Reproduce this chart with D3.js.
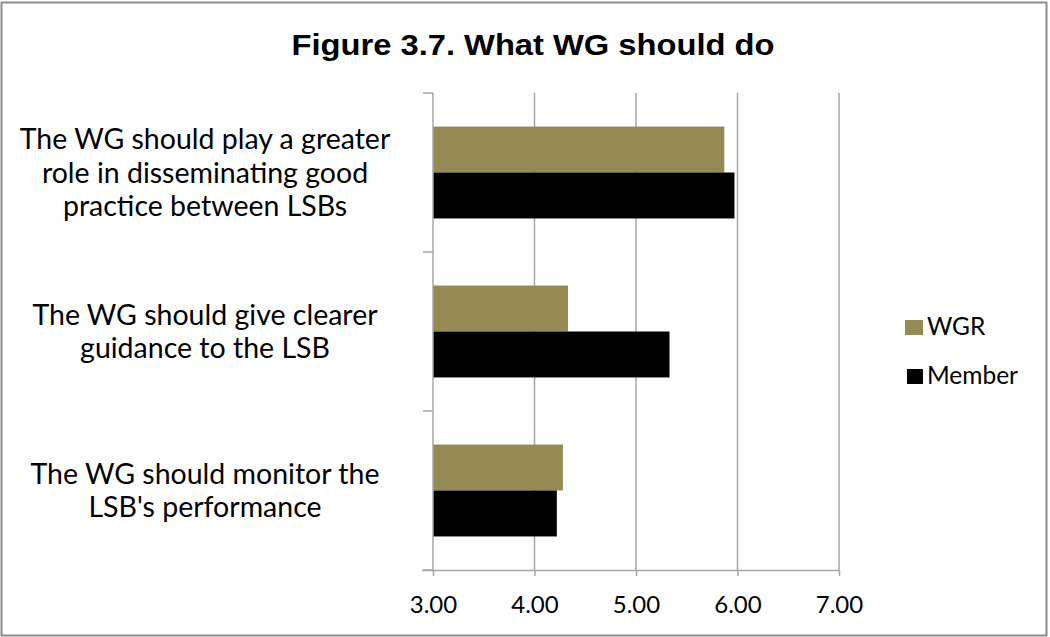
<!DOCTYPE html>
<html><head><meta charset="utf-8">
<script src="https://cdn.jsdelivr.net/npm/d3@7"></script>
<style>body{margin:0;background:#fff}svg{display:block}</style>
</head><body><svg id="c" width="1050" height="637"></svg>
<script>
const categories = [
  ["The WG should play a greater","role in disseminating good","practice between LSBs"],
  ["The WG should give clearer","guidance to the LSB"],
  ["The WG should monitor the","LSB's performance"]
];
const seriesNames = ["WGR","Member"];
const wgrValues = [5.87, 4.33, 4.28];
const memberValues = [5.97, 5.33, 4.22];
const xTicks = [3,4,5,6,7];
const colors = ["#948A54","#000000"];

const svg = d3.select("#c");
svg.append("rect").attr("x",1.5).attr("y",2.5).attr("width",1045).attr("height",633)
  .attr("fill","#fff").attr("stroke","#8c8c8c").attr("stroke-width",2);

svg.append("text").attr("x",533).attr("y",55).attr("text-anchor","middle")
  .attr("font-family","Liberation Sans, Arial, sans-serif").attr("font-weight","bold")
  .attr("font-size",30).attr("textLength",483).attr("lengthAdjust","spacingAndGlyphs")
  .text("Figure 3.7. What WG should do");

const x = d3.scaleLinear().domain([3,7]).range([433,839]);
const y = d3.scaleBand().domain(d3.range(categories.length)).range([93,570]);
const inner = d3.scaleBand().domain(d3.range(2)).range([0,y.bandwidth()]).paddingOuter(0.73).paddingInner(0);

// gridlines
svg.append("g").selectAll("line").data(xTicks.slice(1)).join("line")
  .attr("x1",d=>x(d)).attr("x2",d=>x(d)).attr("y1",93).attr("y2",570)
  .attr("stroke","#a6a6a6").attr("stroke-width",1.5);

// bars
const data = categories.map((c,i)=>({i, vals:[wgrValues[i], memberValues[i]]}));
const gb = svg.append("g");
data.forEach(d=>{
  d.vals.forEach((v,k)=>{
    gb.append("rect").attr("x",x(3)).attr("y",y(d.i)+inner(k))
      .attr("width",x(v)-x(3)).attr("height",inner.bandwidth()).attr("fill",colors[k]);
  });
});

// bottom axis
const xAxis = d3.axisBottom(x).tickValues(xTicks).tickFormat(d3.format(".2f")).tickSizeInner(6).tickSizeOuter(0);
const gx = svg.append("g").attr("transform","translate(0,570)").call(xAxis);
gx.select(".domain").attr("stroke","#a6a6a6").attr("stroke-width",1.5).attr("d","M422,0.5H839");
gx.selectAll(".tick line").attr("stroke","#a6a6a6").attr("stroke-width",1.5);
gx.selectAll(".tick text").attr("font-family","Lato, Calibri, sans-serif").attr("font-size",24)
  .attr("fill","#000").attr("y",0).attr("dy",43);

// left axis
const la = svg.append("g");
la.append("line").attr("x1",x(3)).attr("x2",x(3)).attr("y1",93).attr("y2",570).attr("stroke","#a6a6a6").attr("stroke-width",1.5);
const bounds = y.domain().map(i=>y(i)).concat([570]);
la.selectAll("line.t").data(bounds).join("line").attr("class","t")
  .attr("x1",x(3)-10).attr("x2",x(3)).attr("y1",d=>d).attr("y2",d=>d)
  .attr("stroke","#a6a6a6").attr("stroke-width",1.5);

// category labels
const lh = 33.5;
categories.forEach((lines,i)=>{
  const cy = y(i)+y.bandwidth()/2;
  const t = svg.append("text").attr("text-anchor","middle")
    .attr("font-family","Lato, Calibri, sans-serif").attr("font-size",28.5).attr("fill","#000");
  lines.forEach((s,j)=>{
    t.append("tspan").attr("x",205).attr("y",cy + (j-(lines.length-1)/2)*lh + 10).text(s);
  });
});

// legend
const lg = svg.append("g");
const sw = [[905,18],[907,16]];
seriesNames.forEach((n,k)=>{
  const base = 335 + k*49;
  lg.append("rect").attr("x",sw[k][0]).attr("y",base-15).attr("width",sw[k][1]).attr("height",15).attr("fill",colors[k]);
  lg.append("text").attr("x",927).attr("y",base).attr("font-family","Lato, Calibri, sans-serif")
    .attr("font-size",24.5).text(n);
});
</script></body></html>
